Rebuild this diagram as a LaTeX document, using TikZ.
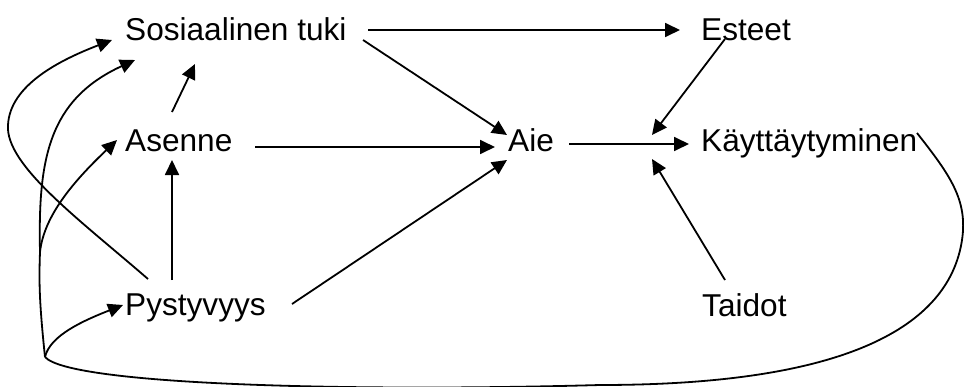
\documentclass[tikz,border=0pt]{standalone}
\usepackage{fontspec}
\setmainfont{Liberation Sans}
\usetikzlibrary{arrows.meta}
\begin{document}
\begin{tikzpicture}[x=1pt,y=-1pt,
  lbl/.style={anchor=base west, inner sep=0pt, font=\fontsize{31.6}{36}\selectfont},
  arr/.style={-{Triangle[length=15pt,width=14pt]}, line width=1.8pt, line join=round},
  ln/.style={line width=1.8pt, line join=round}]
\useasboundingbox (0,0) rectangle (964,386);
% nodes
\node[lbl] (sos) at (125,40) {Sosiaalinen tuki};
\node[lbl] (ase) at (125,151) {Asenne};
\node[lbl] (pys) at (125,315) {Pystyvyys};
\node[lbl] (aie) at (508,151) {Aie};
\node[lbl] (est) at (701,40) {Esteet};
\node[lbl] (kay) at (701,151) {Käyttäytyminen};
\node[lbl] (tai) at (702,316) {Taidot};
% connector end points
\coordinate (sosR1) at (368,30);
\coordinate (estL) at (680,30);
\coordinate (sosR2) at (363,40);
\coordinate (aieA) at (507,135);
\coordinate (aseR) at (255,147);
\coordinate (aieB) at (495,147);
\coordinate (pysR) at (292,304);
\coordinate (aieC) at (507,160);
\coordinate (aieR) at (569,144);
\coordinate (kayL) at (689,144);
\coordinate (estB) at (725,39);
\coordinate (midA) at (652,135);
\coordinate (taiT) at (725,280);
\coordinate (midB) at (652,159);
\coordinate (aseT) at (172,112);
\coordinate (sosB) at (195,64);
\coordinate (pysT) at (172,280);
\coordinate (aseB) at (172,160);
\coordinate (pysTL) at (148,279);
\coordinate (sosL1) at (112,40);
\coordinate (sosL2) at (135,60);
\coordinate (aseL) at (117,140);
\coordinate (pysL) at (123,305);
\coordinate (kayR) at (917,133);
\coordinate (fb) at (45,357);
\coordinate (br) at (40,252);
% straight connectors
\draw[arr] (sosR1) -- (estL);
\draw[arr] (sosR2) -- (aieA);
\draw[arr] (aseR) -- (aieB);
\draw[arr] (pysR) -- (aieC);
\draw[arr] (aieR) -- (kayL);
\draw[arr] (estB) -- (midA);
\draw[arr] (taiT) -- (midB);
\draw[arr] (aseT) -- (sosB);
\draw[arr] (pysT) -- (aseB);
% loop from Pystyvyys to Sosiaalinen tuki
\draw[arr] (pysTL) .. controls (80,220) and (5,165) .. (8,125)
  .. controls (10,85) and (60,60) .. (sosL1);
% feedback from Kayttaytyminen
\draw[ln] (kayR) .. controls (950,175) and (968,200) .. (962,240)
  .. controls (950,320) and (860,385) .. (600,385)
  .. controls (350,392) and (70,385) .. (fb);
\draw[arr] (fb) .. controls (50,335) and (85,320) .. (pysL);
\draw[arr] (fb) .. controls (39,300) and (39,280) .. (br)
  .. controls (38,160) and (48,100) .. (sosL2);
\draw[arr] (br) .. controls (44,215) and (75,180) .. (aseL);
\end{tikzpicture}
\end{document}
